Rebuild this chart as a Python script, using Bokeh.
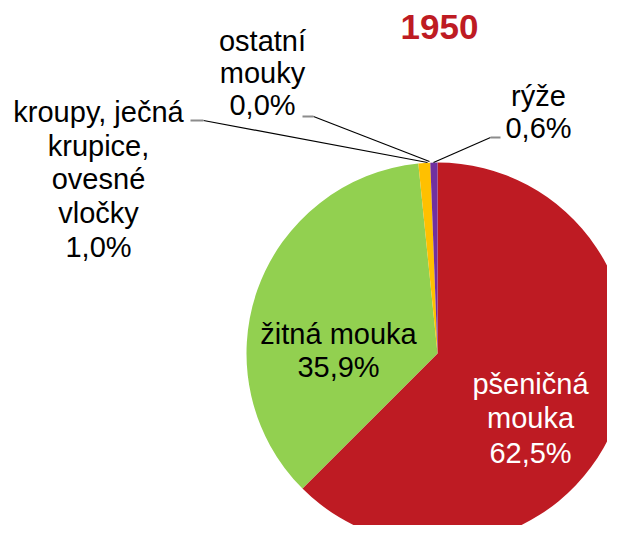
import math
from bokeh.plotting import figure
from bokeh.models import Range1d, ColumnDataSource
from bokeh.core.properties import value
from bokeh.embed import file_html
from bokeh.resources import INLINE

title = "1950"
categories = ["pšeničná\nmouka", "žitná mouka", "kroupy, ječná\nkrupice,\novesné\nvločky", "ostatní\nmouky", "rýže"]
values = [62.5, 35.9, 1.0, 0.0, 0.6]
colors = ["#BE1B23", "#92D050", "#FFC000", "#A5A5A5", "#7030A0"]

W, H = 607, 525
p = figure(width=W, height=H, output_backend="svg", toolbar_location=None,
           x_range=Range1d(0, W), y_range=Range1d(541 - H, 541),
           min_border=0)
p.axis.visible = False
p.grid.visible = False
p.outline_line_color = None
p.background_fill_color = "white"

def Y(sy):
    return 541 - sy

cx, cy, r = 437, Y(353), 191
total = sum(values)
starts, ends, cols = [], [], []
cum = 0.0
for v, c in zip(values, colors):
    a0 = math.pi / 2 - 2 * math.pi * cum / total
    cum += v
    a1 = math.pi / 2 - 2 * math.pi * cum / total
    if v > 0:
        starts.append(a0)
        ends.append(a1)
        cols.append(c)
src = ColumnDataSource(dict(start=starts, end=ends, color=cols))
p.wedge(x=cx, y=cy, radius=r, start_angle="start", end_angle="end", direction="clock",
        fill_color="color", line_color=None, source=src)

def fmt(v):
    return ("%.1f" % v).replace(".", ",") + "%"

labels = [c + "\n" + fmt(v) for c, v in zip(categories, values)]
font = value("Liberation Sans")
fs = "29px"

# inside labels
p.text(x=[530], y=[Y(418)], text=[labels[0]], text_color="white", text_font=font,
       text_font_size=fs, text_align="center", text_baseline="middle", text_line_height=1.07)
p.text(x=[338], y=[Y(350)], text=[labels[1]], text_color="black", text_font=font,
       text_font_size=fs, text_align="center", text_baseline="middle", text_line_height=1.06)
# outside labels
p.text(x=[98], y=[Y(179)], text=[labels[2]], text_color="black", text_font=font,
       text_font_size=fs, text_align="center", text_baseline="middle", text_line_height=1.05)
p.text(x=[262], y=[Y(72)], text=[labels[3]], text_color="black", text_font=font,
       text_font_size=fs, text_align="center", text_baseline="middle", text_line_height=1.0)
p.text(x=[538], y=[Y(111)], text=[labels[4]], text_color="black", text_font=font,
       text_font_size=fs, text_align="center", text_baseline="middle", text_line_height=1.0)

# leader lines
def leader(px, py, lx, ly, hx0, hx1):
    p.line([px, lx], [Y(py), Y(ly)], line_color="black", line_width=1.2)
    p.line([hx0, hx1], [Y(ly), Y(ly)], line_color="#8C8C8C", line_width=2)

leader(427, 162, 203, 120, 190, 203)
leader(429, 161, 313, 116, 302, 313)
leader(433, 162, 490, 137, 490, 500)

p.text(x=[439], y=[Y(26)], text=[title], text_color="#BE1B23", text_font=font,
       text_font_size="35px", text_font_style="bold", text_align="center", text_baseline="middle")

open("out.html", "w").write(file_html(p, INLINE))
